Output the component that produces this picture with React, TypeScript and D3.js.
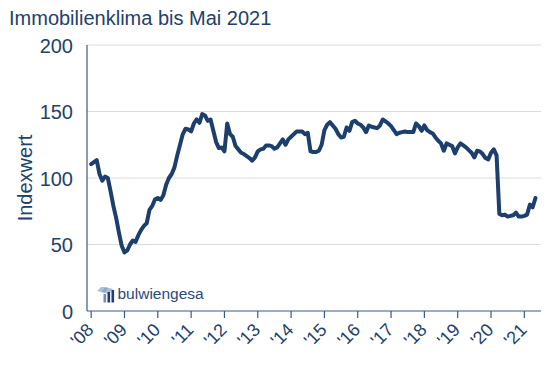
import React from "react";
import * as d3 from "d3";

const title = "Immobilienklima bis Mai 2021";
const yLabel = "Indexwert";
const brand = "bulwiengesa";
const yTicks = [0, 50, 100, 150, 200];
const yearLabels = ["'08", "'09", "'10", "'11", "'12", "'13", "'14", "'15", "'16", "'17", "'18", "'19", "'20", "'21"];
// Monthly index values, Jan 2008 .. May 2021
const values = [
  110.5, 112, 113.5, 103, 98, 101, 100, 90, 79, 70, 59, 49,
  44, 45.5, 50, 53, 52, 57, 61, 64, 66, 76, 79, 84,
  85, 83.5, 87, 95, 100, 103, 108, 117, 125, 133, 137, 136.5,
  135, 141, 144, 141.5, 148, 147, 143, 144, 135.5, 127, 122.5, 123,
  120, 141, 133, 131, 124, 121.5, 119, 118, 116.5, 115, 113, 115.5,
  120, 121.5, 122, 124.5, 124.5, 124, 122, 123, 126, 129, 125, 129,
  131, 133, 135, 135, 135, 133, 134, 120, 119.5, 119.5, 120.5, 125,
  136, 140, 142, 139.5, 137, 133, 130.5, 131, 138, 135.5, 142, 143,
  141, 140, 138, 134.5, 139.5, 138.5, 138, 137.5, 139.5, 144, 142.5, 141,
  139, 136, 133, 134, 134.5, 135, 134.5, 134.5, 134.5, 141, 139, 135.5,
  139.5, 136, 134.5, 133.5, 130.5, 128, 126, 120.5, 126, 125, 124, 118.5,
  123, 126, 124.5, 123, 121, 119, 115.5, 120.5, 120, 118, 115, 114,
  119, 121.5, 117, 73, 72, 72.5, 71, 71.5, 72, 74, 71, 71,
  71.5, 72.5, 80, 78, 85,
];

const NAVY = "#1c3f6e";
const TEXT = "#22416b";
const FONT = "'Liberation Sans', Arial, sans-serif";

export default function App() {
  const x = d3.scaleLinear().domain([-1.5, 162]).range([87, 541]);
  const y = d3.scaleLinear().domain([0, 200]).range([311, 45]);
  const line = d3
    .line<number>()
    .x((_, i) => x(i))
    .y((d) => y(d))
    .curve(d3.curveLinear);

  return (
    <svg
      width={550}
      height={367}
      style={{ position: "absolute", left: 0, top: 0, background: "#fff" }}
      fontFamily={FONT}
    >
      <rect width={550} height={367} fill="#fff" />
      <text x={9} y={25} fontSize={20} fill={TEXT}>
        {title}
      </text>
      {yTicks.map((t) => (
        <g key={t}>
          {t > 0 && (
            <line x1={87} x2={541} y1={y(t)} y2={y(t)} stroke="#dcdcdc" strokeWidth={1} />
          )}
          <text x={73} y={y(t) + 7.5} fontSize={20} fill={TEXT} textAnchor="end">
            {t}
          </text>
        </g>
      ))}
      <text
        transform={`translate(32,178) rotate(-90)`}
        fontSize={20}
        fill={TEXT}
        textAnchor="middle"
      >
        {yLabel}
      </text>
      <line x1={87} x2={87} y1={45} y2={311} stroke="#3a5a85" strokeWidth={1.2} />
      <line x1={87} x2={541} y1={311} y2={311} stroke="#3a5a85" strokeWidth={1.2} />
      {yearLabels.map((lab, i) => {
        const tx = x(i * 12);
        return (
          <g key={lab}>
            <line x1={tx} x2={tx} y1={311} y2={318} stroke="#3a5a85" strokeWidth={1.2} />
            <text
              transform={`translate(${tx + 3.5},331) rotate(-45)`}
              fontSize={18}
              fill={TEXT}
              textAnchor="end"
            >
              {lab}
            </text>
          </g>
        );
      })}
      <path
        d={line(values) || ""}
        fill="none"
        stroke={NAVY}
        strokeWidth={4}
        strokeLinejoin="round"
        strokeLinecap="round"
      />
      <g>
        <path d="M97,291 L101,287 L105,287 L101,292 Z" fill="#a9bfd8" />
        <path d="M101,292 L105,287 L109,288 L105,293 Z" fill="#8eaacb" />
        <path d="M105,293 L109,288 L113,289 L109,294 Z" fill="#a9bfd8" />
        <rect x={103.5} y={294} width={2.6} height={8.5} fill="#6f8fb6" />
        <rect x={107.5} y={292} width={2.6} height={10.5} fill={NAVY} />
        <rect x={111.5} y={290} width={2.6} height={12.5} fill={NAVY} />
      </g>
      <text x={117.5} y={299} fontSize={15.5} fill="#2a4a78">
        {brand}
      </text>
    </svg>
  );
}
